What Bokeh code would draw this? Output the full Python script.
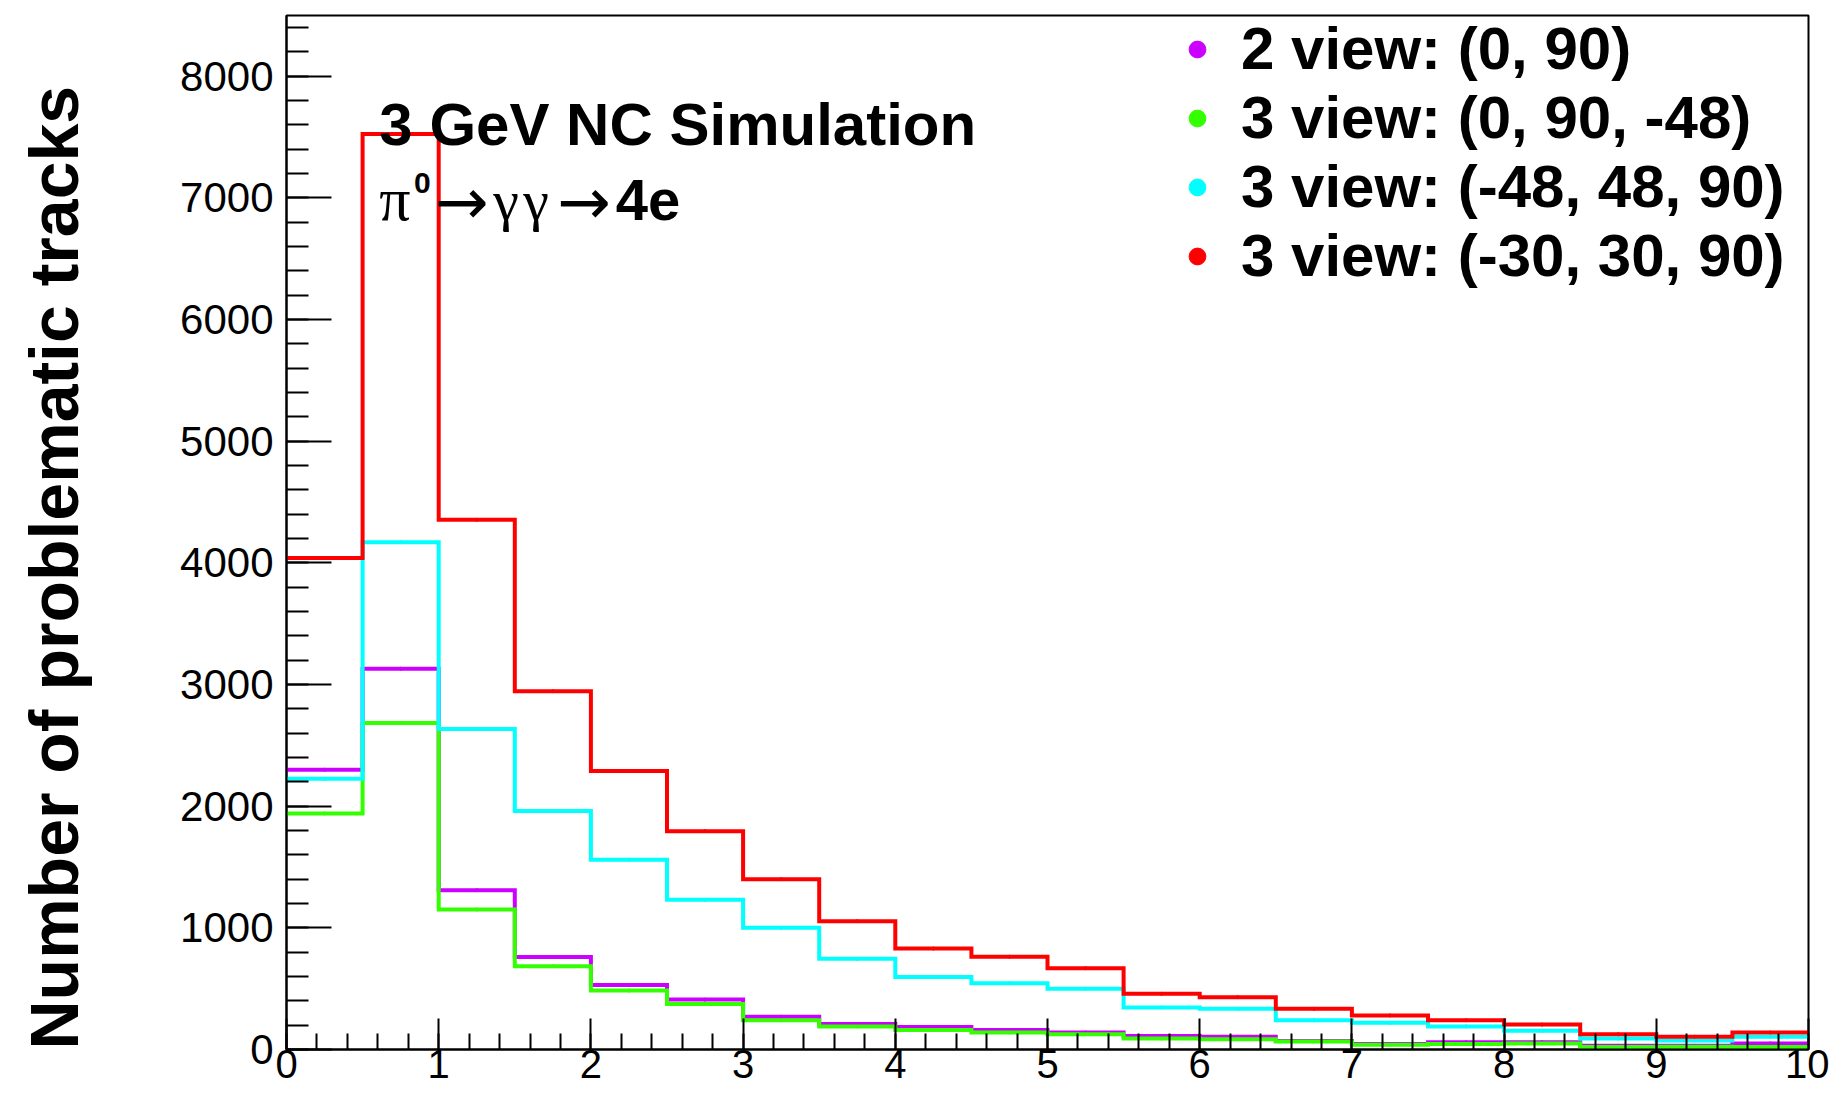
from bokeh.plotting import figure
from bokeh.models import (Range1d, SingleIntervalTicker, Legend, LegendItem, Label,
                          ColumnDataSource, Title)
from bokeh.embed import file_html
from bokeh.resources import INLINE

# ---------------- data ----------------
bin_edges = [0.0, 0.5, 1.0, 1.5, 2.0, 2.5, 3.0, 3.5, 4.0, 4.5, 5.0,
             5.5, 6.0, 6.5, 7.0, 7.5, 8.0, 8.5, 9.0, 9.5, 10.0]

counts_2view_0_90 = [2300, 3130, 1310, 760, 530, 410, 270, 210, 185, 160,
                     140, 110, 105, 70, 45, 60, 60, 30, 30, 50]
counts_3view_0_90_m48 = [1940, 2685, 1150, 685, 485, 375, 240, 190, 160, 140,
                         125, 90, 85, 65, 40, 45, 50, 20, 22, 20]
counts_3view_m48_48_90 = [2225, 4170, 2635, 1960, 1560, 1230, 1000, 745, 595, 545,
                          500, 345, 335, 240, 220, 190, 155, 90, 75, 105]
counts_3view_m30_30_90 = [4040, 7525, 4355, 2945, 2290, 1795, 1400, 1055, 830, 763,
                          668, 458, 430, 335, 280, 240, 205, 125, 105, 140]

series_labels = ["2 view: (0, 90)", "3 view: (0, 90, -48)",
                 "3 view: (-48, 48, 90)", "3 view: (-30, 30, 90)"]
series_colors = ["#cc00ff", "#33ff00", "#00ffff", "#ff0000"]
series_counts = [counts_2view_0_90, counts_3view_0_90_m48,
                 counts_3view_m48_48_90, counts_3view_m30_30_90]

y_axis_title = "Number of problematic tracks"
sim_title = "3 GeV NC Simulation"

bin_centers = [(a + b) / 2 for a, b in zip(bin_edges[:-1], bin_edges[1:])]

# ---------------- figure ----------------
p = figure(width=1829, height=1095,
           x_range=Range1d(0, 10), y_range=Range1d(0, 8500),
           output_backend="svg", toolbar_location=None,
           min_border_left=286, min_border_right=21,
           min_border_top=15, min_border_bottom=46)
p.xgrid.visible = False
p.ygrid.visible = False
p.outline_line_color = "black"
p.outline_line_width = 2
p.outline_line_alpha = 1.0
p.background_fill_color = "white"
p.border_fill_color = "white"

# legend proxies: points at bin centres, hidden under the histogram lines
items = []
for lab_txt, vals, col in zip(series_labels, series_counts, series_colors):
    r = p.scatter(x=bin_centers, y=vals, marker="circle", size=3,
                  fill_color=col, line_color=col)
    items.append(LegendItem(label=lab_txt, renderers=[r]))

# histograms as step lines
for vals, col in zip(series_counts, series_colors):
    ys = list(vals) + [vals[-1]]
    src = ColumnDataSource(dict(x=bin_edges, y=ys))
    p.step("x", "y", source=src, mode="after", line_color=col, line_width=4,
           line_join="miter")

# axes
xa = p.xaxis[0]
xa.ticker = SingleIntervalTicker(interval=1, num_minor_ticks=5)
xa.major_tick_in = 31
xa.major_tick_out = 0
xa.minor_tick_in = 16
xa.minor_tick_out = 0
xa.axis_line_width = 2
xa.major_tick_line_width = 2
xa.minor_tick_line_width = 2
xa.major_label_text_font = "Liberation Sans"
xa.major_label_text_font_size = "40px"
xa.major_label_text_color = "black"
xa.major_label_standoff = 0

ya = p.yaxis[0]
ya.ticker = SingleIntervalTicker(interval=1000, num_minor_ticks=5)
ya.major_tick_in = 45
ya.major_tick_out = 0
ya.minor_tick_in = 22
ya.minor_tick_out = 0
ya.axis_line_width = 2
ya.major_tick_line_width = 2
ya.minor_tick_line_width = 2
ya.major_label_text_font = "Liberation Sans"
ya.major_label_text_font_size = "42px"
ya.major_label_text_color = "black"
ya.major_label_standoff = 13

# y axis title: a side title on the left, starting at the bottom of the axis
ytitle = Title(text=y_axis_title, align="left", standoff=0,
               text_font="Liberation Sans", text_font_style="bold",
               text_font_size="68px", text_color="black")
try:
    ytitle.padding = dict(left=0, right=0, top=0, bottom=86)
except Exception:
    ytitle.standoff = 86
p.add_layout(ytitle, "left")

legend = Legend(items=items, location=(890, 759),
                label_text_font="Liberation Sans", label_text_font_style="bold",
                label_text_font_size="60px", label_text_baseline="middle",
                label_text_color="black",
                glyph_width=42, glyph_height=42, label_standoff=23,
                spacing=0, padding=0, margin=0, label_height=42,
                border_line_color=None, background_fill_alpha=0)
p.add_layout(legend)

# text annotations (data units, vertical centre of the text box)
def lab(x, y, text, font, size, style="normal"):
    p.add_layout(Label(x=x, y=y, text=text,
                       text_font=font, text_font_size=size, text_font_style=style,
                       text_baseline="middle", text_align="left",
                       text_color="black"))

lab(0.61, 7601, sim_title, "Liberation Sans", "60px", "bold")
lab(0.61, 6988, "\u03c0", "Liberation Serif", "62px")
lab(0.837, 7122, "0", "Liberation Sans", "30px", "bold")
lab(0.974, 6963, "\u2192", "DejaVu Sans", "64px")
lab(1.359, 6977, "\u03b3", "Liberation Serif", "58px")
lab(1.556, 6977, "\u03b3", "Liberation Serif", "58px")
lab(1.778, 6963, "\u2192", "DejaVu Sans", "64px")
lab(2.163, 6980, "4e", "Liberation Sans", "58px", "bold")

open("out.html", "w").write(file_html(p, INLINE))
